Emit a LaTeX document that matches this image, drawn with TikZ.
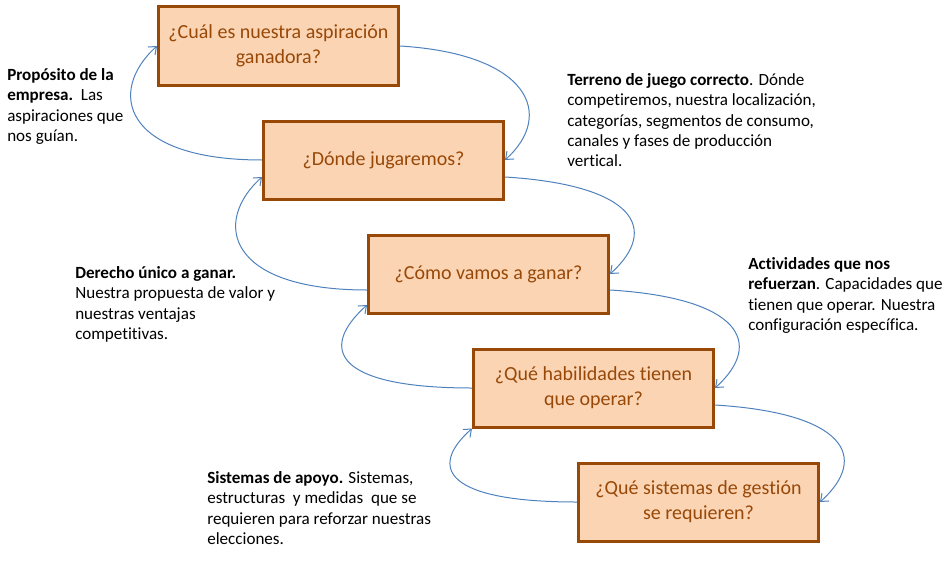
\documentclass[tikz,border=0pt]{standalone}
\usepackage{fontspec}
\setmainfont{Carlito}[Ligatures=NoCommon]
\usepackage{tikz}
\usetikzlibrary{arrows.meta,positioning}
\definecolor{boxbrown}{HTML}{984807}
\definecolor{boxfill}{HTML}{FBD4B4}
\definecolor{flowblue}{HTML}{4F81BD}

\begin{document}
\begin{tikzpicture}[x=0.75pt, y=-0.75pt]
\tikzstyle{question}=[draw=boxbrown, fill=boxfill, text=boxbrown, line width=2.25pt, shape=rectangle, minimum width=180pt, minimum height=58.5pt, align=center, font=\fontsize{15}{18.75}\selectfont]
\tikzstyle{note}=[anchor=north west, inner sep=0pt, align=left, font=\fontsize{12.8}{15.3}\selectfont]
\tikzstyle{flow}=[draw=flowblue, line width=0.75pt, -{Straight Barb[length=5pt, width=8pt]}]
\useasboundingbox (0,0) rectangle (944,560);

\node[question] (1) at (278.5,46) {¿Cuál es nuestra aspiración\\ganadora?};
\node[question] (2) [below=24.75pt of 1, xshift=78.75pt] {¿Dónde jugaremos?};
\node[question] (3) [below=24.75pt of 2, xshift=78.75pt] {¿Cómo vamos a ganar?};
\node[question] (4) [below=24.75pt of 3, xshift=78.75pt] {¿Qué habilidades tienen\\que operar?};
\node[question] (5) [below=24.75pt of 4, xshift=78.75pt] {¿Qué sistemas de gestión\\se requieren?};

\node[note] (p) at (7,68) {\textbf{Propósito de la}\\\textbf{empresa.}\ \ Las\\aspiraciones que\\nos guían.};
\node[note] (t) at (567,73) {\textbf{Terreno de juego correcto}. Dónde\\competiremos, nuestra localización,\\categorías, segmentos de consumo,\\canales y fases de producción\\vertical.};
\node[note] (d) at (75,266) {\textbf{Derecho único a ganar.}\\Nuestra propuesta de valor y\\nuestras ventajas\\competitivas.};
\node[note] (a) at (748,257) {\textbf{Actividades que nos}\\\textbf{refuerzan}. Capacidades que\\tienen que operar. Nuestra\\configuración específica.};
\node[note] (s) at (207,471) {\textbf{Sistemas de apoyo.} Sistemas,\\estructuras\ \ y medidas\ \ que se\\requieren para reforzar nuestras\\elecciones.};

% down the right side
\draw[flow] (1.east) .. controls +(130,8) and +(50,-45) .. (2.east);
\draw[flow] ([yshift=-12.75pt]2.east) .. controls +(130,8) and +(50,-45) .. (3.east);
\draw[flow] ([yshift=-12pt]3.east) .. controls +(130,8) and +(50,-45) .. (4.east);
\draw[flow] ([yshift=-12.75pt]4.east) .. controls +(130,8) and +(50,-45) .. (5.east);
% back up the left side
\draw[flow] (2.west) .. controls +(-140,0) and +(-50,45) .. (1.west);
\draw[flow] ([yshift=-12pt]3.west) .. controls +(-140,0) and +(-50,45) .. ([yshift=-12.75pt]2.west);
\draw[flow] (4.west) .. controls +(-135,0) and +(-50,45) .. ([yshift=-23.25pt]3.west);
\draw[flow] (5.west) .. controls +(-130,0) and +(-45,40) .. (4.south west);

\end{tikzpicture}
\end{document}
